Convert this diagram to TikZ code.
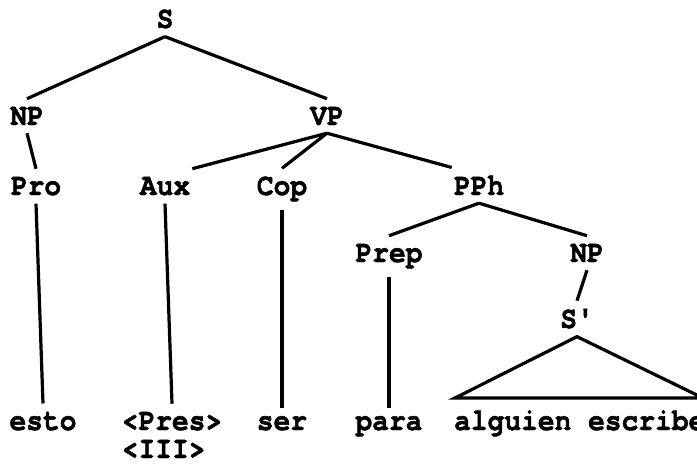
\documentclass[tikz,border=0pt]{standalone}
\usepackage{fontspec}
\newfontfamily\treefont{texgyrecursor-bold}[Extension=.otf,FakeStretch=0.9,FakeBold=1.5]
\usepackage{tikz}
\tikzset{cat/.style={font=\treefont\fontsize{31}{33}\selectfont,inner xsep=2pt,inner ysep=8pt,anchor=base}}
\tikzset{word/.style={cat}}
\tikzset{branch/.style={draw,line width=3.2pt}}

\begin{document}
\begin{tikzpicture}[x=1pt,y=-1pt]
		\useasboundingbox (0,0) rectangle (697,464);

		\node[cat](s) at (165,28){S};

		\node[cat](np) at (27,125){NP};
		\node[cat](vp) at (327,125){VP};

		\node[cat](pro) at (36,195){Pro};
		\node[cat](aux) at (165,195){Aux};
		\node[cat](cop) at (282,195){Cop};
		\node[cat](pph) at (479,195){PPh};

		\node[cat](prep) at (389,262){Prep};
		\node[cat](npb) at (587,262){NP};
		\node[cat](sbar) at (577,328){S'};

		\node[word](esto) at (43,430){esto};
		\node[word](pres) at (172,430){<Pres>};
		\node[word,anchor=base west](iii) at ([yshift=-28pt]pres.base west){<III>};
		\node[word](ser) at (282,430){ser};
		\node[word](para) at (389,430){para};
		\node[word,anchor=base west](alg) at (452,430){alguien escribe};

		\coordinate (tl) at (455,398);
		\coordinate (tr) at (703,398);

		\draw[branch] (s.south) -- (np.north);
		\draw[branch] (s.south) -- (vp.north);

		\draw[branch] (np.south) -- (pro.north);

		\draw[branch] (vp.south) -- (aux.north east);
		\draw[branch] (vp.south) -- (cop.north);
		\draw[branch] (vp.south) -- (pph.north west);

		\draw[branch] (pph.south) -- (prep.north);
		\draw[branch] (pph.south) -- (npb.north);
		\draw[branch] (npb.south) -- (sbar.north);

		\draw[branch] (pro.south) -- (esto.north);
		\draw[branch] (aux.south) -- (pres.north);
		\draw[branch] (cop.south) -- (ser.north);
		\draw[branch] (prep.south) -- (para.north);

		% triangle over S'
		\draw[branch] (sbar.south) -- (tl) -- (tr) -- cycle;
	\end{tikzpicture}
\end{document}
